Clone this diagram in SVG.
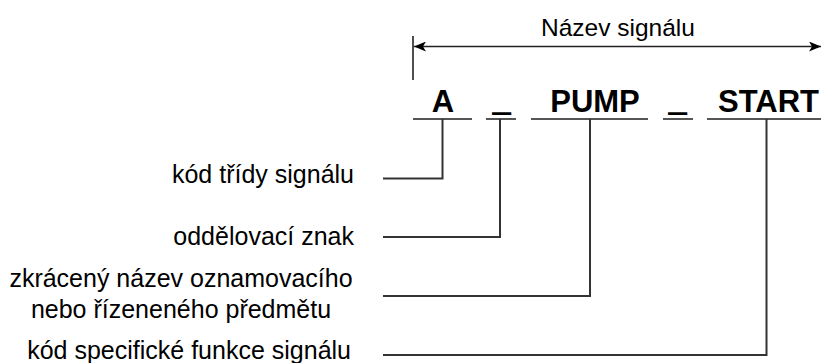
<svg xmlns="http://www.w3.org/2000/svg" width="821" height="363" viewBox="0 0 821 363">
<style>
.lbl{font-family:"Liberation Sans",Arial,sans-serif;font-size:25px;fill:#000}
.ttl{font-family:"Liberation Sans",Arial,sans-serif;font-size:24.5px;fill:#000}
.code{font-family:"Liberation Sans",Arial,sans-serif;font-size:31px;font-weight:bold;fill:#000}
.us{stroke:#000;stroke-width:1.4}
.ul{stroke:#555;stroke-width:2;fill:none}
.con{stroke:#333;stroke-width:2;fill:none}
</style>
<defs>
<marker id="ah" viewBox="0 0 12 10" refX="12" refY="5" markerWidth="12" markerHeight="10" markerUnits="userSpaceOnUse" orient="auto-start-reverse">
<path d="M0,0 L12,5 L0,10 L3,5 Z" fill="#000"/>
</marker>
</defs>
<g id="title">
<line x1="413" y1="36" x2="413" y2="80" stroke="#222" stroke-width="1.6"/>
<line x1="414" y1="46.5" x2="821" y2="46.5" stroke="#222" stroke-width="1.6" marker-start="url(#ah)" marker-end="url(#ah)"/>
<text class="ttl" x="618" y="36" text-anchor="middle">Název signálu</text>
</g>
<g id="code-A">
<text class="code" x="443" y="112" text-anchor="middle">A</text>
<line class="ul" x1="413" y1="119" x2="472" y2="119"/>
</g>
<g id="code-sep1">
<text class="code us" x="501.7" y="109.5" text-anchor="middle">_</text>
<line class="ul" x1="486" y1="119" x2="516" y2="119"/>
</g>
<g id="code-PUMP">
<text class="code" x="595" y="112" text-anchor="middle">PUMP</text>
<line class="ul" x1="531" y1="119" x2="648" y2="119"/>
</g>
<g id="code-sep2">
<text class="code us" x="677.5" y="109.5" text-anchor="middle">_</text>
<line class="ul" x1="663" y1="119" x2="693" y2="119"/>
</g>
<g id="code-START">
<text class="code" x="718" y="112">START</text>
<line class="ul" x1="707" y1="119" x2="821" y2="119"/>
</g>
<g id="label-trida">
<text class="lbl" x="354" y="183" text-anchor="end">kód třídy signálu</text>
</g>
<g id="label-oddelovaci">
<text class="lbl" x="354" y="245" text-anchor="end">oddělovací znak</text>
</g>
<g id="label-nazev">
<text class="lbl" x="181" y="287" text-anchor="middle">zkrácený název oznamovacího</text>
<text class="lbl" x="181" y="318" text-anchor="middle">nebo řízeneného předmětu</text>
</g>
<g id="label-funkce">
<text class="lbl" x="351" y="359" text-anchor="end">kód specifické funkce signálu</text>
</g>
<g id="connectors">
<path class="con" d="M383 178.5 H442.5 V119"/>
<path class="con" d="M383 237 H500 V119"/>
<path class="con" d="M383 296 H590 V119"/>
<path class="con" d="M383 355 H766.5 V119"/>
</g>
</svg>
